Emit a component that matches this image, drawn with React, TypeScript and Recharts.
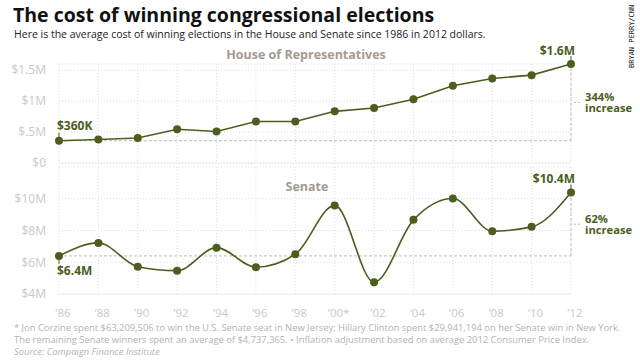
import { LineChart, Line, XAxis, YAxis, CartesianGrid, ReferenceLine, ReferenceDot, LabelList } from "recharts";

const YEARS = [1986, 1988, 1990, 1992, 1994, 1996, 1998, 2000, 2002, 2004, 2006, 2008, 2010, 2012];
const YEAR_LABELS = ["\u201986", "\u201988", "\u201990", "\u201992", "\u201994", "\u201996", "\u201998", "\u201900*", "\u201902", "\u201904", "\u201906", "\u201908", "\u201910", "\u201912"];

// average cost of a winning race, millions of 2012 dollars
const HOUSE = [0.36, 0.38, 0.405, 0.545, 0.51, 0.67, 0.67, 0.835, 0.89, 1.03, 1.25, 1.366, 1.42, 1.6];
const SENATE = [6.4, 7.22, 5.72, 5.47, 6.92, 5.69, 6.5, 9.58, 4.74, 8.67, 10.02, 7.96, 8.23, 10.4];

const HOUSE_TICKS = [0, 0.5, 1, 1.5];
const HOUSE_TICK_LABELS = ["$0", "$.5M", "$1M", "$1.5M"];
const SENATE_TICKS = [4, 6, 8, 10];
const SENATE_TICK_LABELS = ["$4M", "$6M", "$8M", "$10M"];

const HOUSE_START_LABEL = "$360K";
const HOUSE_END_LABEL = "$1.6M";
const HOUSE_CHANGE = "344%";
const SENATE_START_LABEL = "$6.4M";
const SENATE_END_LABEL = "$10.4M";
const SENATE_CHANGE = "62%";

const houseData = YEARS.map((year, i) => ({ year, v: HOUSE[i] }));
const senateData = YEARS.map((year, i) => ({ year, v: SENATE[i] }));

const GREEN = "#4b5e1e";
const FONT = "'Open Sans', sans-serif";
const TICK = { fill: "#c9c9c9", fontSize: 12, fontFamily: FONT };
const GRID = "#dedede";
const BASE_DASH = "#bdbdb0";

function endLabels(first: string, last: string, firstBelow: boolean) {
  const n = YEARS.length;
  return (props: any) => {
    const { x, y, index } = props;
    if (index === 0) {
      const dir = firstBelow ? 1 : -1;
      return (
        <g>
          <line x1={x} y1={y + dir * 3} x2={x} y2={y + dir * 8} stroke={GREEN} strokeWidth={1} />
          <text x={x - 2} y={y + dir * 15} dy="0.35em" fill={GREEN} fontSize={12} fontWeight={700} fontFamily={FONT}>
            {first}
          </text>
        </g>
      );
    }
    if (index === n - 1) {
      return (
        <g>
          <line x1={x} y1={y - 3} x2={x} y2={y - 8} stroke={GREEN} strokeWidth={1} />
          <text x={x + 4} y={y - 9} textAnchor="end" fill={GREEN} fontSize={12} fontWeight={700} fontFamily={FONT}>
            {last}
          </text>
        </g>
      );
    }
    return null;
  };
}

function changeMark(pct: string) {
  return (props: any) => {
    const { cx, cy } = props;
    return (
      <g>
        <line x1={cx + 3} y1={cy} x2={cx + 9} y2={cy} stroke={BASE_DASH} strokeDasharray="2 2" />
        <text x={cx + 14} y={cy - 1.5} fill={GREEN} fontSize={11.2} fontWeight={700} fontFamily={FONT}>
          <tspan x={cx + 14}>{pct}</tspan>
          <tspan x={cx + 14} dy={11}>increase</tspan>
        </text>
      </g>
    );
  };
}

const heading = { position: "absolute" as const, fontFamily: FONT, fontWeight: 700, fontSize: 12.5, color: "#a39a92", transform: "translateX(-50%)", whiteSpace: "nowrap" as const };

export default function App() {
  const hFirst = HOUSE[0];
  const hLast = HOUSE[HOUSE.length - 1];
  const sFirst = SENATE[0];
  const sLast = SENATE[SENATE.length - 1];
  return (
    <div style={{ position: "fixed", left: 0, top: 0, width: 640, height: 360, background: "#fff", overflow: "hidden", fontFamily: FONT }}>
      <div style={{ position: "absolute", left: 13, top: 1, fontSize: 19.5, fontWeight: 700, color: "#111", whiteSpace: "nowrap" }}>
        The cost of winning congressional elections
      </div>
      <div style={{ position: "absolute", left: 14, top: 27, fontSize: 10.5, color: "#222", whiteSpace: "nowrap" }}>
        Here is the average cost of winning elections in the House and Senate since 1986 in 2012 dollars.
      </div>
      <div style={{ position: "absolute", left: 628, top: 68, transform: "rotate(-90deg)", transformOrigin: "0 0", fontSize: 7, lineHeight: "8px", fontFamily: "'DejaVu Sans Mono', monospace", color: "#111", whiteSpace: "nowrap" }}>
        BRYAN PERRY/CNN
      </div>

      <div style={{ position: "absolute", left: 0, top: 0 }}>
        <LineChart width={640} height={170} data={houseData} margin={{ top: 64, right: 69, bottom: 6, left: 0 }}>
          <CartesianGrid stroke={GRID} strokeDasharray="1 2" />
          <XAxis dataKey="year" type="number" domain={[1986, 2012]} ticks={YEARS} interval={0} tick={() => <g />} tickLine={false} height={1} axisLine={{ stroke: "#ececec" }} />
          <YAxis domain={[0, 1.6]} ticks={HOUSE_TICKS} interval={0} width={59} axisLine={false} tickLine={false} tickSize={0} tickMargin={13} tick={TICK}
            tickFormatter={(v: number) => HOUSE_TICK_LABELS[HOUSE_TICKS.indexOf(v)]} />
          <ReferenceLine segment={[{ x: 1986, y: hFirst }, { x: 2012, y: hFirst }]} stroke={BASE_DASH} strokeDasharray="3 2" ifOverflow="visible" />
          <ReferenceLine segment={[{ x: 2012, y: hFirst }, { x: 2012, y: hLast }]} stroke={BASE_DASH} strokeDasharray="3 2" ifOverflow="visible" />
          <ReferenceDot x={2012} y={(hFirst + hLast) / 2} ifOverflow="visible" shape={changeMark(HOUSE_CHANGE)} />
          <Line type="linear" dataKey="v" stroke={GREEN} strokeWidth={1.6} dot={{ r: 4, fill: GREEN, stroke: "none" }} isAnimationActive={false}>
            <LabelList dataKey="v" content={endLabels(HOUSE_START_LABEL, HOUSE_END_LABEL, false)} />
          </Line>
        </LineChart>
      </div>

      <div style={{ position: "absolute", left: 0, top: 160 }}>
        <LineChart width={640} height={170} data={senateData} margin={{ top: 7, right: 69, bottom: 6, left: 0 }}>
          <CartesianGrid stroke={GRID} strokeDasharray="1 2" />
          <XAxis dataKey="year" type="number" domain={[1986, 2012]} ticks={YEARS} interval={0} height={30} tickLine={false} tickSize={0} tickMargin={15} axisLine={{ stroke: "#ececec" }}
            tick={{ ...TICK, fontSize: 11.5, dx: 4 }} tickFormatter={(v: number) => YEAR_LABELS[YEARS.indexOf(v)]} />
          <YAxis domain={[4, 12]} ticks={SENATE_TICKS} interval={0} width={59} axisLine={false} tickLine={false} tickSize={0} tickMargin={13} tick={TICK}
            tickFormatter={(v: number) => SENATE_TICK_LABELS[SENATE_TICKS.indexOf(v)]} />
          <ReferenceLine segment={[{ x: 1986, y: sFirst }, { x: 2012, y: sFirst }]} stroke={BASE_DASH} strokeDasharray="3 2" ifOverflow="visible" />
          <ReferenceLine segment={[{ x: 2012, y: sFirst }, { x: 2012, y: sLast }]} stroke={BASE_DASH} strokeDasharray="3 2" ifOverflow="visible" />
          <ReferenceDot x={2012} y={(sFirst + sLast) / 2} ifOverflow="visible" shape={changeMark(SENATE_CHANGE)} />
          <Line type="monotone" dataKey="v" stroke={GREEN} strokeWidth={1.6} dot={{ r: 4, fill: GREEN, stroke: "none" }} isAnimationActive={false}>
            <LabelList dataKey="v" content={endLabels(SENATE_START_LABEL, SENATE_END_LABEL, true)} />
          </Line>
        </LineChart>
      </div>

      <div style={{ ...heading, left: 306, top: 46 }}>House of Representatives</div>
      <div style={{ ...heading, left: 307, top: 178 }}>Senate</div>

      <div style={{ position: "absolute", left: 14, top: 322, fontSize: 9.4, lineHeight: "12px", color: "#b3b3b3", whiteSpace: "nowrap" }}>
        <div>* Jon Corzine spent $63,209,506 to win the U.S. Senate seat in New Jersey; Hillary Clinton spent $29,941,194 on her Senate win in New York.</div>
        <div>The remaining Senate winners spent an average of $4,737,365. &bull; Inflation adjustment based on average 2012 Consumer Price Index.</div>
        <div style={{ fontStyle: "italic" }}>Source: Campaign Finance Institute</div>
      </div>
    </div>
  );
}
